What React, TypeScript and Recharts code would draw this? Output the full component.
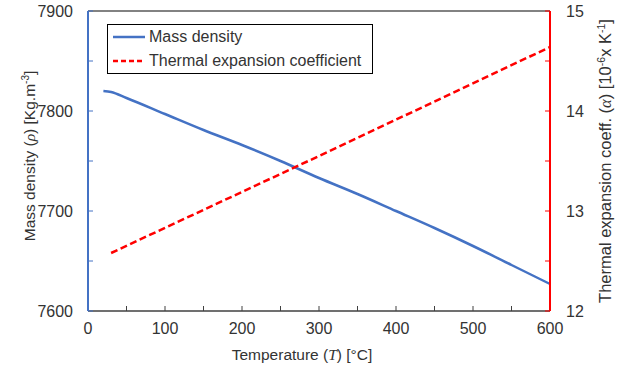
import React from "react";
import { ComposedChart, Line, XAxis, YAxis, ReferenceLine } from "recharts";

// Temperature (°C) and mass density (kg/m³)
const densityTemps = [20, 30, 50, 100, 150, 200, 250, 300, 350, 400, 450, 500, 550, 600];
const massDensity = [7820, 7819, 7813, 7797, 7781, 7766, 7750, 7733, 7717, 7700, 7683, 7665, 7646, 7627];

// Temperature (°C) and thermal expansion coefficient (1e-6 / K)
const expansionTemps = [30, 300, 600];
const expansionCoeff = [12.58, 13.55, 14.64];

const xTicks = [0, 50, 100, 150, 200, 250, 300, 350, 400, 450, 500, 550, 600];
const densityTicks = [7600, 7650, 7700, 7750, 7800, 7850, 7900];
const coeffTicks = [12, 12.5, 13, 13.5, 14, 14.5, 15];

const BLUE = "#4472C4";
const RED = "#FF0000";
const TEXT = "#333333";
const FONT = "'Liberation Sans', Arial, sans-serif";
const SERIF = "'Liberation Serif', 'Times New Roman', serif";

const allTemps = Array.from(new Set([...densityTemps, ...expansionTemps])).sort((a, b) => a - b);
const rows = allTemps.map((t) => {
  const di = densityTemps.indexOf(t);
  const ei = expansionTemps.indexOf(t);
  return {
    T: t,
    rho: di >= 0 ? massDensity[di] : null,
    alpha: ei >= 0 ? expansionCoeff[ei] : null,
  };
});

const tickStyle = { fill: TEXT, fontSize: 16, fontFamily: FONT };

function XTitle() {
  return (
    <text x={302} y={360} textAnchor="middle" fill={TEXT} fontSize={15.5} fontFamily={FONT}>
      Temperature (<tspan fontFamily={SERIF} fontStyle="italic">T</tspan>) [°C]
    </text>
  );
}

function LeftTitle() {
  return (
    <text
      x={0}
      y={0}
      transform="translate(35,156) rotate(-90)"
      textAnchor="middle"
      fill={TEXT}
      fontSize={15.5}
      fontFamily={FONT}
    >
      Mass density (<tspan fontFamily={SERIF} fontStyle="italic">ρ</tspan>) [Kg.m
      <tspan dy={-6} fontSize={10}>-3</tspan>
      <tspan dy={6}>]</tspan>
    </text>
  );
}

function RightTitle() {
  return (
    <text
      x={0}
      y={0}
      transform="translate(611,161) rotate(-90)"
      textAnchor="middle"
      fill={TEXT}
      fontSize={16.5}
      fontFamily={FONT}
    >
      Thermal expansion coeff. (<tspan fontFamily={SERIF} fontStyle="italic">α</tspan>) [10
      <tspan dy={-6} fontSize={10.5}>-6</tspan>
      <tspan dy={6}>x K</tspan>
      <tspan dy={-6} fontSize={10.5}>-1</tspan>
      <tspan dy={6}>]</tspan>
    </text>
  );
}

function LegendBox() {
  const item = (label: string, color: string, dash?: string) => (
    <div style={{ display: "flex", alignItems: "center", height: 24 }}>
      <svg width={34} height={10} style={{ marginRight: 3 }}>
        <line x1={1} y1={5} x2={33} y2={5} stroke={color} strokeWidth={2.5} strokeDasharray={dash} />
      </svg>
      <span>{label}</span>
    </div>
  );
  return (
    <div
      style={{
        position: "absolute",
        left: 107,
        top: 24,
        boxSizing: "border-box",
        border: "1px solid #000",
        background: "#fff",
        padding: "0 0 0 4px",
        width: 266,
        height: 50,
        fontFamily: FONT,
        fontSize: 16,
        color: TEXT,
        lineHeight: "24px",
      }}
    >
      {item("Mass density", BLUE)}
      {item("Thermal expansion coefficient", RED, "5 3")}
    </div>
  );
}

export default function App() {
  return (
    <div style={{ position: "absolute", left: 0, top: 0, width: 618, height: 367, background: "#fff" }}>
      <ComposedChart
        width={618}
        height={367}
        data={rows}
        margin={{ top: 11, right: 0, bottom: 0, left: 0 }}
      >
        <XAxis
          dataKey="T"
          type="number"
          domain={[0, 600]}
          ticks={xTicks}
          interval={0}
          tickFormatter={(v) => (Number(v) % 100 === 0 ? String(v) : "")}
          height={56}
          tick={tickStyle}
          tickSize={-5}
          tickMargin={17}
          axisLine={{ stroke: "#404040", strokeWidth: 1.5 }}
          tickLine={{ stroke: "#404040" }}
          label={<XTitle />}
        />
        <YAxis
          yAxisId="left"
          type="number"
          domain={[7600, 7900]}
          ticks={densityTicks}
          interval={0}
          tickFormatter={(v) => (Number(v) % 100 === 0 ? String(v) : "")}
          width={88}
          tick={tickStyle}
          tickSize={-5}
          tickMargin={20}
          axisLine={{ stroke: BLUE, strokeWidth: 2 }}
          tickLine={{ stroke: BLUE }}
          label={<LeftTitle />}
        />
        <YAxis
          yAxisId="right"
          orientation="right"
          type="number"
          domain={[12, 15]}
          ticks={coeffTicks}
          interval={0}
          tickFormatter={(v) => (Number(v) % 1 === 0 ? String(v) : "")}
          width={68}
          tick={tickStyle}
          tickSize={-5}
          tickMargin={21}
          axisLine={{ stroke: RED, strokeWidth: 2 }}
          tickLine={{ stroke: RED }}
          label={<RightTitle />}
        />
        <ReferenceLine yAxisId="left" y={7900} stroke="#595959" strokeWidth={1.5} />
        <Line
          yAxisId="left"
          dataKey="rho"
          name="Mass density"
          type="monotone"
          stroke={BLUE}
          strokeWidth={2.5}
          dot={false}
          connectNulls
          isAnimationActive={false}
        />
        <Line
          yAxisId="right"
          dataKey="alpha"
          name="Thermal expansion coefficient"
          type="linear"
          stroke={RED}
          strokeWidth={2.5}
          strokeDasharray="7 3.5"
          dot={false}
          connectNulls
          isAnimationActive={false}
        />
      </ComposedChart>
      <LegendBox />
    </div>
  );
}
